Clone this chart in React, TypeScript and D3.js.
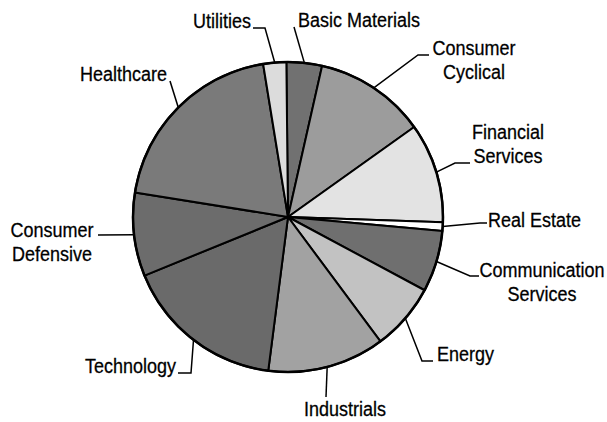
import React from "react";
import * as d3 from "d3";

// ---- data ----
const sectors = [
  "Basic Materials",
  "Consumer Cyclical",
  "Financial Services",
  "Real Estate",
  "Communication Services",
  "Energy",
  "Industrials",
  "Technology",
  "Consumer Defensive",
  "Healthcare",
  "Utilities",
];
const weights = [3.7, 11.6, 10.4, 0.9, 6.4, 7.0, 12.2, 16.8, 8.7, 19.9, 2.4];
const labelLines = [
  ["Basic Materials"],
  ["Consumer", "Cyclical"],
  ["Financial", "Services"],
  ["Real Estate"],
  ["Communication", "Services"],
  ["Energy"],
  ["Industrials"],
  ["Technology"],
  ["Consumer", "Defensive"],
  ["Healthcare"],
  ["Utilities"],
];

// ---- styling / layout ----
const fills = [
  "#717171", // Basic Materials
  "#9c9c9c", // Consumer Cyclical
  "#e3e3e3", // Financial Services
  "#ffffff", // Real Estate
  "#6f6f6f", // Communication Services
  "#c2c2c2", // Energy
  "#a2a2a2", // Industrials
  "#6a6a6a", // Technology
  "#6c6c6c", // Consumer Defensive
  "#7a7a7a", // Healthcare
  "#dcdcdc", // Utilities
];

// label layout: text position (x, first baseline), anchor, leader path after edge point
const labelLayout: { x: number; y: number; anchor: string; path: [number, number][] }[] = [
  { x: 298, y: 27, anchor: "start", path: [[294, 27]] },
  { x: 474, y: 55, anchor: "middle", path: [[418, 55], [429, 55]] },
  { x: 508, y: 139, anchor: "middle", path: [[455, 163], [470, 163]] },
  { x: 488, y: 227, anchor: "start", path: [[480, 223], [487, 223]] },
  { x: 542, y: 277, anchor: "middle", path: [[470, 276], [479, 276]] },
  { x: 437, y: 361, anchor: "start", path: [[422, 361], [433, 361]] },
  { x: 304, y: 416, anchor: "start", path: [[326, 397]] },
  { x: 85, y: 373, anchor: "start", path: [[191, 373], [178, 373]] },
  { x: 52, y: 237, anchor: "middle", path: [[98, 235]] },
  { x: 80, y: 81, anchor: "start", path: [[170, 81]] },
  { x: 193, y: 28, anchor: "start", path: [[265, 28], [253, 28]] },
];

const W = 607;
const H = 422;
const cx = 288;
const cy = 217;
const R = 155;
const startA = -0.6 * (Math.PI / 180);

export default function App() {
  const pie = d3
    .pie<number>()
    .sort(null)
    .value((d) => d)
    .startAngle(startA)
    .endAngle(startA + 2 * Math.PI);
  const arcs = pie(weights);
  const arc = d3.arc<d3.PieArcDatum<number>>().innerRadius(0).outerRadius(R);
  const edgeArc = d3.arc<d3.PieArcDatum<number>>().innerRadius(R).outerRadius(R);
  const line = d3.line();

  return (
    <svg
      width={W}
      height={H}
      style={{ position: "absolute", left: 0, top: 0, background: "#fff" }}
      fontFamily="'Liberation Sans', Arial, sans-serif"
    >
      <g transform={`translate(${cx},${cy})`}>
        {arcs.map((a, i) => (
          <path key={sectors[i]} d={arc(a) || ""} fill={fills[i]} stroke="#000" strokeWidth={2} strokeLinejoin="round" />
        ))}
        <circle r={R} fill="none" stroke="#000" strokeWidth={2.5} />
      </g>
      {arcs.map((a, i) => {
        const [ex, ey] = edgeArc.centroid(a);
        const pts: [number, number][] = [[cx + ex, cy + ey], ...labelLayout[i].path];
        return <path key={"l" + i} d={line(pts) || ""} fill="none" stroke="#000" strokeWidth={1.5} />;
      })}
      {labelLines.map((lines, i) => (
        <g key={"t" + i} transform={`translate(${labelLayout[i].x},${labelLayout[i].y}) scale(1,1.1)`}>
          <text
            x={0}
            y={0}
            textAnchor={labelLayout[i].anchor}
            fontSize={18}
            fill="#000"
            stroke="#000"
            strokeWidth={0.25}
          >
            {lines.map((ln, j) => (
              <tspan key={j} x={0} dy={j === 0 ? 0 : 22}>
                {ln}
              </tspan>
            ))}
          </text>
        </g>
      ))}
    </svg>
  );
}
